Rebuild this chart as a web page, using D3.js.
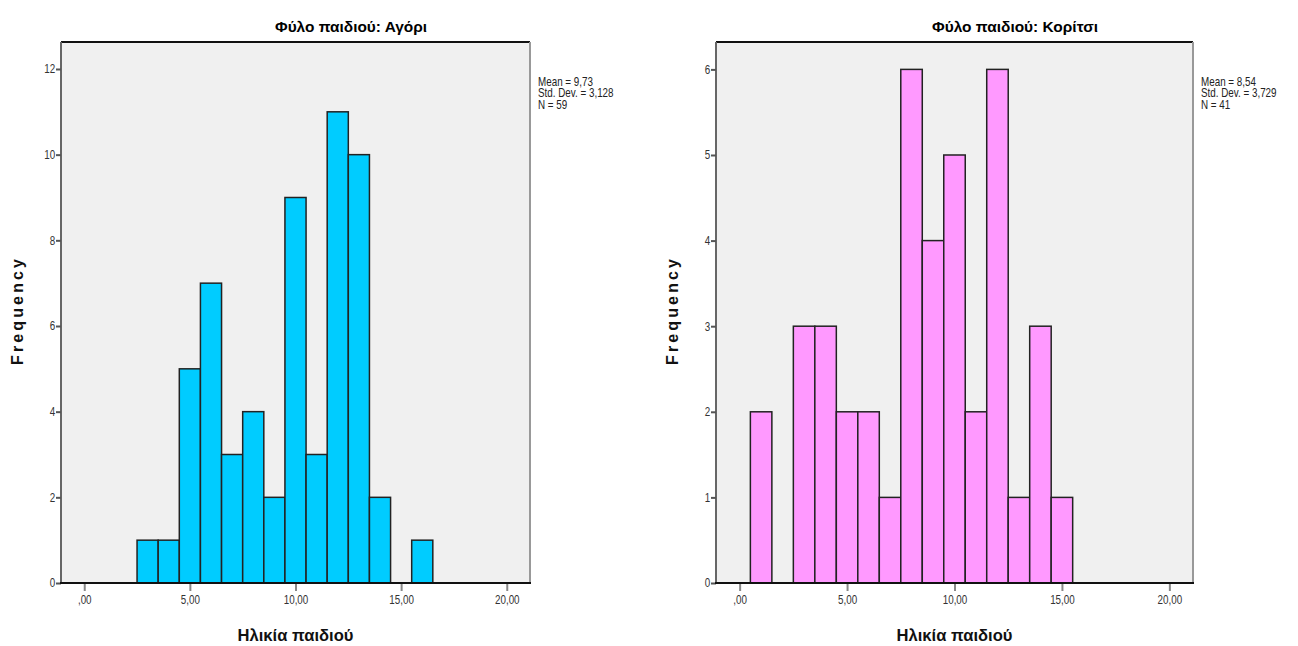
<!DOCTYPE html>
<html lang="el">
<head>
<meta charset="utf-8">
<title>Ηλικία παιδιού ανά φύλο</title>
<script src="https://cdnjs.cloudflare.com/ajax/libs/d3/7.8.5/d3.min.js"></script>
<style>
  body { margin: 0; background: #fff; }
  text { font-family: "Liberation Sans", Arial, sans-serif; }
</style>
</head>
<body>
<svg id="chart" width="1298" height="646"></svg>
<script>
// bins of width 1, centred on whole ages
var binCenters = [1, 2, 3, 4, 5, 6, 7, 8, 9, 10, 11, 12, 13, 14, 15, 16];
var boyCounts  = [0, 0, 1, 1, 5, 7, 3, 4, 2, 9, 3, 11, 10, 2, 0, 1];
var girlCounts = [2, 0, 3, 3, 2, 2, 1, 6, 4, 5, 2, 6, 1, 3, 1, 0];

var xTicks = [0, 5, 10, 15, 20];
var xTickLabels = [",00", "5,00", "10,00", "15,00", "20,00"];
var boyYTicks = [0, 2, 4, 6, 8, 10, 12];
var girlYTicks = [0, 1, 2, 3, 4, 5, 6];

var panelTitles = ["Φύλο παιδιού: Αγόρι", "Φύλο παιδιού: Κορίτσι"];
var boyStats = ["Mean = 9,73", "Std. Dev. = 3,128", "N = 59"];
var girlStats = ["Mean = 8,54", "Std. Dev. = 3,729", "N = 41"];

var svg = d3.select("#chart");

var panels = [
  { left: 61, right: 530, titleX: 351, titleLen: 152, counts: boyCounts, yTicks: boyYTicks,
    yMax: 12.63, fill: "#00ccff", stats: boyStats, title: panelTitles[0] },
  { left: 716, right: 1193, titleX: 1015, titleLen: 166, counts: girlCounts, yTicks: girlYTicks,
    yMax: 6.32, fill: "#ff99ff", stats: girlStats, title: panelTitles[1] }
];

var plotTop = 42, plotBottom = 583;
var narrow = 0.82; // squeeze to look like the condensed SPSS font

panels.forEach(function (p) {
  var g = svg.append("g");

  var x = d3.scaleLinear().domain([-1.1, 21.1]).range([p.left, p.right]);
  var y = d3.scaleLinear().domain([0, p.yMax]).range([plotBottom, plotTop]);

  // plot background
  g.append("rect")
    .attr("x", p.left).attr("y", plotTop)
    .attr("width", p.right - p.left).attr("height", plotBottom - plotTop)
    .attr("fill", "#f0f0f0");

  // bars
  var bins = binCenters.map(function (c, i) { return { c: c, n: p.counts[i] }; })
    .filter(function (d) { return d.n > 0; });

  g.selectAll("rect.bar")
    .data(bins)
    .enter()
    .append("rect")
    .attr("class", "bar")
    .attr("x", function (d) { return x(d.c - 0.5); })
    .attr("y", function (d) { return y(d.n); })
    .attr("width", function (d) { return x(d.c + 0.5) - x(d.c - 0.5); })
    .attr("height", function (d) { return y(0) - y(d.n); })
    .attr("fill", p.fill)
    .attr("stroke", "#222")
    .attr("stroke-width", 1.5);

  // frame lines
  g.append("line").attr("x1", p.left).attr("x2", p.right).attr("y1", plotTop).attr("y2", plotTop)
    .attr("stroke", "#111").attr("stroke-width", 2);
  g.append("line").attr("x1", p.right).attr("x2", p.right).attr("y1", plotTop).attr("y2", plotBottom)
    .attr("stroke", "#999").attr("stroke-width", 2);
  g.append("line").attr("x1", p.left).attr("x2", p.left).attr("y1", plotTop).attr("y2", plotBottom)
    .attr("stroke", "#666").attr("stroke-width", 2);

  // y axis
  var yAxis = g.append("g")
    .attr("transform", "translate(" + p.left + ",0)")
    .call(d3.axisLeft(y).tickValues(p.yTicks).tickSize(5).tickPadding(2).tickFormat(d3.format("d")));
  yAxis.select(".domain").remove();
  yAxis.selectAll(".tick line").attr("stroke", "#555").attr("stroke-width", 2);
  yAxis.selectAll(".tick text").attr("font-size", 12).attr("fill", "#333")
    .attr("transform", "scale(" + narrow + ",1)");

  // x axis
  var xAxis = g.append("g")
    .attr("transform", "translate(0," + plotBottom + ")")
    .call(d3.axisBottom(x).tickValues(xTicks).tickSize(8).tickPadding(4)
      .tickFormat(function (d, i) { return xTickLabels[i]; }));
  xAxis.select(".domain").remove();
  xAxis.selectAll(".tick line").attr("stroke", "#888").attr("stroke-width", 2);
  xAxis.selectAll(".tick text").attr("font-size", 12).attr("fill", "#333")
    .attr("transform", "scale(" + narrow + ",1)");

  g.append("line").attr("x1", p.left - 1).attr("x2", p.right + 1).attr("y1", plotBottom).attr("y2", plotBottom)
    .attr("stroke", "#111").attr("stroke-width", 2);

  // title
  g.append("text")
    .attr("x", p.titleX).attr("y", 32)
    .attr("text-anchor", "middle")
    .attr("font-size", 14).attr("font-weight", "bold")
    .attr("textLength", p.titleLen).attr("lengthAdjust", "spacingAndGlyphs")
    .text(p.title);

  // x label
  g.append("text")
    .attr("x", (p.left + p.right) / 2).attr("y", 641)
    .attr("text-anchor", "middle")
    .attr("font-size", 17).attr("font-weight", "bold").attr("fill", "#111")
    .attr("textLength", 116).attr("lengthAdjust", "spacingAndGlyphs")
    .text("Ηλικία παιδιού");

  // y label
  g.append("text")
    .attr("transform", "translate(" + (p.left - 38) + "," + 312 + ") rotate(-90)")
    .attr("text-anchor", "middle")
    .attr("font-size", 16).attr("font-weight", "bold").attr("fill", "#111")
    .attr("textLength", 106).attr("lengthAdjust", "spacing")
    .text("Frequency");

  // stats
  g.append("g")
    .attr("transform", "translate(" + (p.right + 8) + ",0) scale(" + narrow + ",1)")
    .selectAll("text.stat")
    .data(p.stats)
    .enter()
    .append("text")
    .attr("class", "stat")
    .attr("x", 0)
    .attr("y", function (d, i) { return 86 + i * 11.5; })
    .attr("font-size", 12).attr("fill", "#222")
    .text(function (d) { return d; });
});
</script>
</body>
</html>
